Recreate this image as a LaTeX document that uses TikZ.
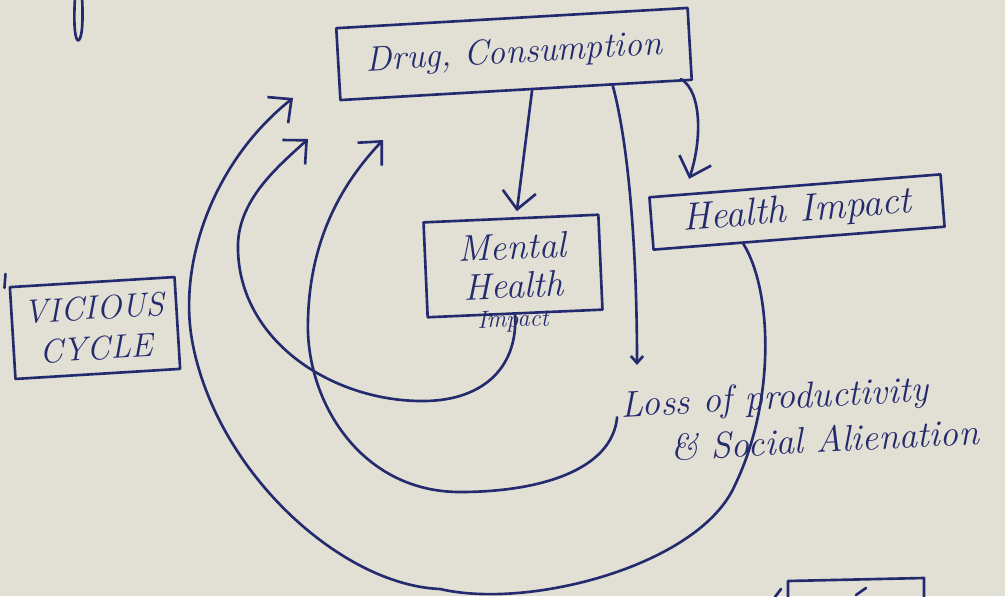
\documentclass[tikz,border=0pt]{standalone}
\usetikzlibrary{arrows.meta,calc}
\definecolor{paper}{RGB}{226,223,212}
\definecolor{ink}{RGB}{36,42,110}
\begin{document}
\begin{tikzpicture}[x=0.02cm,y=-0.02cm,
  pen/.style={draw=ink, line width=1.5pt, line cap=round, line join=round},
  boxnode/.style={pen, rectangle, inner sep=0pt, text=ink},
  txt/.style={text=ink, inner sep=0pt},
  arr/.style={-{Straight Barb[length=10pt,width=19pt,line width=1.5pt]}},
  smallarr/.style={-{Straight Barb[length=4pt,width=7pt,line width=1.5pt]}},
]
\fill[paper] (0,0) rectangle (1005,596);
\useasboundingbox (0,0) rectangle (1005,596);

% nodes
\node[boxnode, minimum width=7.04cm, minimum height=1.44cm, rotate=3.3,
  font=\itshape\fontsize{20}{24}\selectfont] (dc) at (514,54) {Drug, Consumption};
\node[boxnode, minimum width=3.5cm, minimum height=1.9cm, rotate=2.5, align=center,
  font=\itshape\fontsize{21}{22}\selectfont] (mh) at (513,266) {Mental\\Health};
\node[txt, rotate=2, font=\itshape\fontsize{14}{14}\selectfont] (mhi) at (513,321) {Impact};
\node[boxnode, minimum width=5.84cm, minimum height=1.05cm, rotate=4.5,
  font=\itshape\fontsize{22}{24}\selectfont] (hi) at (797,212) {Health Impact};
\node[boxnode, minimum width=3.3cm, minimum height=1.84cm, rotate=3.5, align=center,
  font=\itshape\fontsize{19}{23}\selectfont] (vc) at (95,328) {VICIOUS\\CYCLE};
\node[txt, rotate=3, align=left, font=\itshape\fontsize{21}{26}\selectfont] (loss) at (800,418)
  {Loss of productivity\\\hspace*{0.94cm}\& Social Alienation};

% named connector ends
\coordinate (dcA) at ($(dc.south west)!0.545!(dc.south east)$);
\coordinate (dcB) at ($(dc.south west)!0.773!(dc.south east)$);
\coordinate (dcC) at ($(dc.south east)+(-12,-2)$);
\coordinate (mhin) at ($(mh.north)+(6,-6)$);
\coordinate (hiin) at ($(hi.north west)!0.14!(hi.north east)+(0,-14)$);
\coordinate (hiout) at ($(hi.south west)!0.31!(hi.south east)$);
\coordinate (lossin) at (637,365);
\coordinate (lossout) at ($(loss.west)+(-5,-10)$);
\coordinate (t1) at (293,98);
\coordinate (t2) at (308,139);
\coordinate (t3) at (383,140);

% connectors from Drug Consumption
\draw[pen, arr] (dcA) -- (mhin);
\draw[pen, arr] (dcC) .. controls (702,92) and (702,140) .. (hiin);
\draw[pen, smallarr] (dcB) .. controls (630,150) and (637,260) .. (lossin);

% vicious cycle arcs
\draw[pen, arr] (hiout) .. controls (772,290) and (776,400) .. (735,485)
  .. controls (700,565) and (530,610) .. (440,589)
  .. controls (340,585) and (215,470) .. (192,340)
  .. controls (178,260) and (215,160) .. (t1);
\draw[pen, arr] (mh.south) .. controls (518,370) and (480,402) .. (420,401)
  .. controls (330,400) and (240,340) .. (238,250)
  .. controls (236,200) and (280,165) .. (t2);
\draw[pen, arr] (lossout) .. controls (612,470) and (540,492) .. (460,492)
  .. controls (360,492) and (305,400) .. (308,320)
  .. controls (310,230) and (350,175) .. (t3);

% stray marks of the page
\draw[pen] ($(vc.north west)+(-4,2)$) -- ++(1,-14);
\draw[pen] (75,-2) .. controls (73,30) and (76,43) .. (79,40) .. controls (83,36) and (83,12) .. (82,-2);
\draw[pen] (788,600) -- (788,581) -- (924,578) -- (924,600);
\draw[pen] (775,597) -- (781,589);
\draw[pen] (856,595) -- (866,588);
\end{tikzpicture}
\end{document}
